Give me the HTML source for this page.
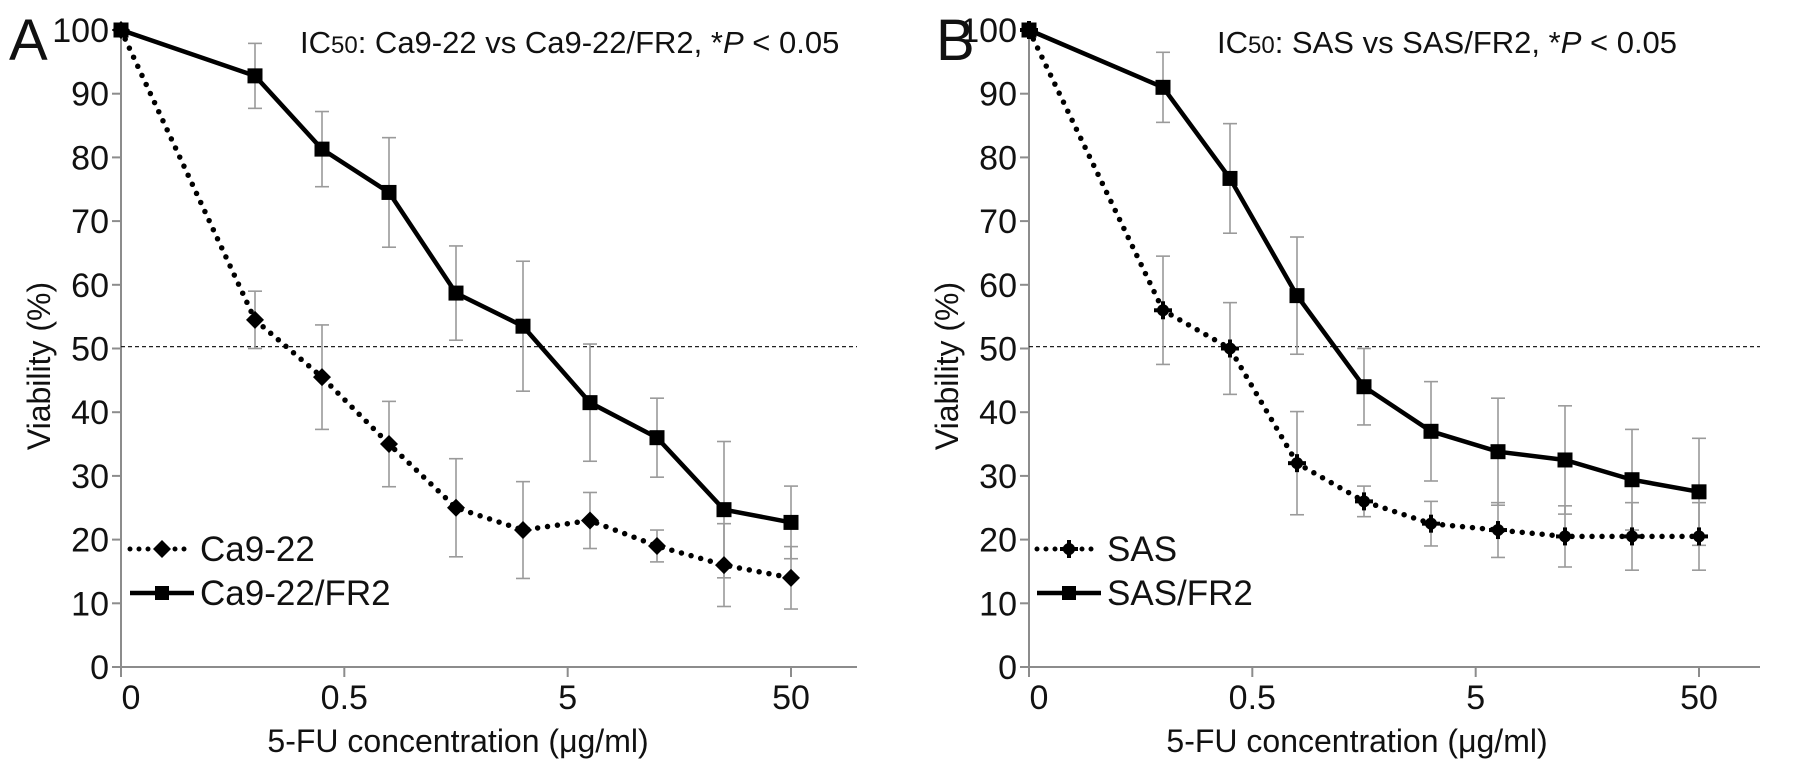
<!DOCTYPE html>
<html><head><meta charset="utf-8"><style>
html,body{margin:0;padding:0;background:#fff;}
svg{display:block;font-family:"Liberation Sans",Arial,sans-serif;}
</style></head><body>
<svg id="chart" width="1795" height="772" viewBox="0 0 1795 772" xmlns="http://www.w3.org/2000/svg"></svg>
<script>
// x index positions (concentration steps)
const xIndexA = [0,2,3,4,5,6,7,8,9,10];
const ca922 = [100,54.5,45.5,35,25,21.5,23,19,16,14];
const ca922Err = [0,4.5,8.2,6.7,7.7,7.6,4.4,2.5,6.5,4.9];
const ca922fr2 = [100,92.8,81.3,74.5,58.7,53.5,41.5,36,24.7,22.7];
const ca922fr2Err = [0,5.1,5.9,8.6,7.4,10.2,9.2,6.2,10.7,5.7];
const xIndexB = [0,2,3,4,5,6,7,8,9,10];
const sas = [100,56,50,32,26,22.5,21.5,20.5,20.5,20.5];
const sasErr = [0,8.5,7.2,8.1,2.4,3.5,4.3,4.8,5.3,5.3];
const sasfr2 = [100,91,76.7,58.3,44,37,33.8,32.5,29.4,27.5];
const sasfr2Err = [0,5.5,8.6,9.2,6,7.8,8.4,8.5,7.9,8.4];
const yTicks = [0,10,20,30,40,50,60,70,80,90,100];
const xTickIdx = [0,3.333,6.667,10];
const xTickLabels = ["0","0.5","5","50"];
const ic50Line = 50.3;

const NS="http://www.w3.org/2000/svg";
const svg=document.getElementById('chart');
function mk(tag,attrs,parent,text){const e=document.createElementNS(NS,tag);for(const k in attrs)e.setAttribute(k,attrs[k]);if(text!==undefined)e.textContent=text;(parent||svg).appendChild(e);return e;}
const y0=667,y100=30;
function yS(v){return y0-(v/100)*(y0-y100);}

function panel(cfg){
  const g=mk('g',{});
  
  
  const ax=cfg.axisX, step=67, xEnd=cfg.axisEnd;
  const xS=k=>ax+k*step;
  const ya=mk('line',{x1:ax,y1:yS(100)-2,x2:ax,y2:y0,stroke:'#8c8c8c','stroke-width':2},g);
  
  const xa=mk('line',{x1:ax,y1:y0,x2:xEnd,y2:y0,stroke:'#8c8c8c','stroke-width':2},g);
  
  yTicks.forEach(t=>{
    mk('line',{x1:ax-9,y1:yS(t),x2:ax,y2:yS(t),stroke:'#8c8c8c','stroke-width':2},g);
    const tl=mk('text',{x:ax-12,y:yS(t)+12,'font-size':34,'text-anchor':'end',fill:'#111'},g,String(t));
    
  });
  xTickIdx.forEach((k,i)=>{
    mk('line',{x1:xS(k),y1:y0,x2:xS(k),y2:y0+10,stroke:'#8c8c8c','stroke-width':2},g);
    const tl=mk('text',{x:xS(k)+(i==0?10:0),y:709,'font-size':34,'text-anchor':'middle',fill:'#111'},g,xTickLabels[i]);
    
  });
  const rl=mk('line',{x1:ax,y1:yS(ic50Line),x2:xEnd,y2:yS(ic50Line),stroke:'#222','stroke-width':1.3,'stroke-dasharray':'4 3'},g);
  
  function errs(xi,vals,er,nm){
    xi.forEach((k,i)=>{if(!er[i])return;const x=xS(k),t=yS(vals[i]+er[i]),b=yS(vals[i]-er[i]);
      const eg=mk('g',{stroke:'#9a9a9a','stroke-width':1.6},g);
      
      mk('line',{x1:x,y1:t,x2:x,y2:b},eg);mk('line',{x1:x-7,y1:t,x2:x+7,y2:t},eg);mk('line',{x1:x-7,y1:b,x2:x+7,y2:b},eg);});
  }
  errs(cfg.xi,cfg.s1,cfg.e1,'sensitive');
  errs(cfg.xi,cfg.s2,cfg.e2,'resistant');
  const pts1=cfg.xi.map((k,i)=>xS(k)+','+yS(cfg.s1[i])).join(' ');
  const pts2=cfg.xi.map((k,i)=>xS(k)+','+yS(cfg.s2[i])).join(' ');
  const l1=mk('polyline',{points:pts1,fill:'none',stroke:'#000','stroke-width':5.5,'stroke-linecap':'round','stroke-dasharray':'0 10'},g);
  
  const l2=mk('polyline',{points:pts2,fill:'none',stroke:'#000','stroke-width':4.5},g);
  
  function diamond(x,y,r,par){return mk('polygon',{points:`${x},${y-r} ${x+r},${y} ${x},${y+r} ${x-r},${y}`,fill:'#000'},par);}
  function cross(x,y,par){const p=mk('g',{fill:'#000'},par);mk('circle',{cx:x,cy:y,r:6},p);mk('rect',{x:x-2,y:y-9,width:4,height:18},p);mk('rect',{x:x-9,y:y-2,width:18,height:4},p);return p;}
  cfg.xi.forEach((k,i)=>{
    const m=cfg.cross?cross(xS(k),yS(cfg.s1[i]),g):diamond(xS(k),yS(cfg.s1[i]),9,g);
    
    const s=mk('rect',{x:xS(k)-7.5,y:yS(cfg.s2[i])-7.5,width:15,height:15,fill:'#000'},g);
    
  });
  const lg=mk('g',{},g);
  const lx=cfg.legX;
  const e1=mk('g',{},lg);
  mk('line',{x1:lx,y1:549,x2:lx+62,y2:549,stroke:'#000','stroke-width':5,'stroke-linecap':'round','stroke-dasharray':'0 9'},e1);
  if(cfg.cross)cross(lx+32,549,e1);else diamond(lx+32,549,9,e1);
  mk('text',{x:lx+70,y:561,'font-size':35,fill:'#111'},e1,cfg.lab1);
  const e2=mk('g',{},lg);
  mk('line',{x1:lx,y1:593,x2:lx+64,y2:593,stroke:'#000','stroke-width':4.5},e2);
  mk('rect',{x:lx+25,y:586,width:14,height:14,fill:'#000'},e2);
  mk('text',{x:lx+70,y:605,'font-size':35,fill:'#111'},e2,cfg.lab2);
  const pl=mk('text',{x:cfg.letterX,y:60,'font-size':58,fill:'#111'},g,cfg.letter);
  
  const tt=mk('text',{x:cfg.titleX,y:53,'font-size':31,fill:'#111'},g);
  
  mk('tspan',{},tt,'IC');mk('tspan',{'font-size':24},tt,'50');mk('tspan',{},tt,': '+cfg.titleText+', *');
  mk('tspan',{'font-style':'italic'},tt,'P');mk('tspan',{},tt,' < 0.05');
  const xl=mk('text',{x:cfg.xLabelX,y:752,'font-size':32,'text-anchor':'middle',fill:'#111'},g,'5-FU concentration (μg/ml)');
  
  const yl=mk('text',{x:0,y:0,'font-size':32,'text-anchor':'middle',fill:'#111',transform:`translate(${cfg.yLabelX},366) rotate(-90)`},g,'Viability (%)');
  
}
panel({name:'panel-a',axisX:121,axisEnd:857,xi:xIndexA,s1:ca922,e1:ca922Err,s2:ca922fr2,e2:ca922fr2Err,n1:'ca9-22',n2:'ca9-22-fr2',lab1:'Ca9-22',lab2:'Ca9-22/FR2',legX:130,letter:'A',letterX:9,titleX:300,titleText:'Ca9-22 vs Ca9-22/FR2',xLabelX:458,yLabelX:50,cross:false});
panel({name:'panel-b',axisX:1029,axisEnd:1760,xi:xIndexB,s1:sas,e1:sasErr,s2:sasfr2,e2:sasfr2Err,n1:'sas',n2:'sas-fr2',lab1:'SAS',lab2:'SAS/FR2',legX:1037,letter:'B',letterX:936,titleX:1217,titleText:'SAS vs SAS/FR2',xLabelX:1357,yLabelX:958,cross:true});
</script>
</body></html>
